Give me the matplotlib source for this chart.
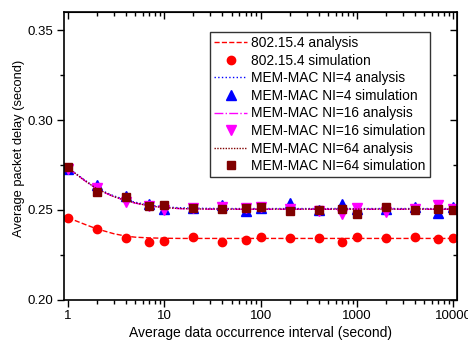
import numpy as np
from matplotlib import pyplot as plt
from matplotlib.ticker import FixedLocator, FixedFormatter, MultipleLocator, LogLocator, NullFormatter

plt.rcParams['font.family'] = ['Liberation Sans', 'DejaVu Sans']

# Simulation x positions (data occurrence interval, seconds)
x_sim = [1, 2, 4, 7, 10, 20, 40, 70, 100, 200, 400, 700, 1000, 2000, 4000, 7000, 10000]

# Analysis curves
x_ana = [1, 1.5, 2, 3, 4, 5, 7, 10, 15, 20, 40, 100, 1000, 10000]
ieee_ana = [0.2457, 0.2420, 0.2395, 0.2368, 0.2355, 0.2349, 0.2345, 0.2343, 0.2342, 0.2342,
            0.2342, 0.2342, 0.2342, 0.2342]
ni4_ana = [0.2735, 0.2665, 0.2620, 0.2578, 0.2557, 0.2543, 0.2527, 0.2517, 0.2512, 0.2510,
           0.2508, 0.2508, 0.2508, 0.2508]
ni16_ana = [0.2733, 0.2662, 0.2616, 0.2573, 0.2552, 0.2538, 0.2522, 0.2512, 0.2507, 0.2505,
            0.2504, 0.2504, 0.2504, 0.2504]
ni64_ana = [0.2734, 0.2663, 0.2617, 0.2574, 0.2553, 0.2539, 0.2523, 0.2513, 0.2508, 0.2506,
            0.2505, 0.2505, 0.2505, 0.2505]

# Simulation points
ieee_sim = [0.2457, 0.2396, 0.2344, 0.2322, 0.2326, 0.2348, 0.2322, 0.2335, 0.2350, 0.2344,
            0.2344, 0.2324, 0.2350, 0.2344, 0.2348, 0.2340, 0.2344]
ni4_sim = [0.2728, 0.2641, 0.2578, 0.2531, 0.2504, 0.2512, 0.2528, 0.2496, 0.2512, 0.2537,
           0.2498, 0.2532, 0.2503, 0.2505, 0.2518, 0.2481, 0.2515]
ni16_sim = [0.2725, 0.2620, 0.2546, 0.2520, 0.2500, 0.2512, 0.2515, 0.2510, 0.2517, 0.2505,
            0.2495, 0.2476, 0.2511, 0.2490, 0.2505, 0.2526, 0.2508]
ni64_sim = [0.2741, 0.2602, 0.2571, 0.2522, 0.2530, 0.2512, 0.2506, 0.2509, 0.2517, 0.2496,
            0.2500, 0.2505, 0.2476, 0.2518, 0.2499, 0.2506, 0.2498]

fig = plt.figure(figsize=(4.68, 3.47), dpi=100)
ax = fig.add_axes([64/468, 1 - 300/347, (457-64)/468, (300-12)/347])

ax.plot(x_ana, ieee_ana, '--', color='#ff0000', lw=1, label='802.15.4 analysis')
ax.plot(x_sim, ieee_sim, 'o', color='#ff0000', ms=6, ls='none', label='802.15.4 simulation')
ax.plot(x_ana, ni4_ana, ':', color='#0000ff', lw=1, label='MEM-MAC NI=4 analysis')
ax.plot(x_sim, ni4_sim, '^', color='#0000ff', ms=6.5, ls='none', label='MEM-MAC NI=4 simulation')
ax.plot(x_ana, ni16_ana, '-.', color='#ff00ff', lw=1, label='MEM-MAC NI=16 analysis')
ax.plot(x_sim, ni16_sim, 'v', color='#ff00ff', ms=6.5, ls='none', label='MEM-MAC NI=16 simulation')
ax.plot(x_ana, ni64_ana, color='#800000', lw=1, ls=(0, (1, 1)), label='MEM-MAC NI=64 analysis')
ax.plot(x_sim, ni64_sim, 's', color='#800000', ms=5.5, ls='none', label='MEM-MAC NI=64 simulation')

ax.set_xscale('log')
ax.set_xlim(0.91, 10900)
ax.set_ylim(0.20, 0.36)

ax.xaxis.set_major_locator(FixedLocator([1, 10, 100, 1000, 10000]))
ax.xaxis.set_major_formatter(FixedFormatter(['1', '10', '100', '1000', '10000']))
ax.xaxis.set_minor_locator(LogLocator(base=10, subs=np.arange(2, 10)))
ax.xaxis.set_minor_formatter(NullFormatter())
ax.yaxis.set_major_locator(FixedLocator([0.20, 0.25, 0.30, 0.35]))
ax.yaxis.set_major_formatter(FixedFormatter(['0.20', '0.25', '0.30', '0.35']))
ax.yaxis.set_minor_locator(MultipleLocator(0.025))

ax.tick_params(which='both', direction='out', labelsize=9.5, width=1, top=False, right=False)
ax.tick_params(which='major', length=5, pad=2.5)
ax.tick_params(which='minor', length=3)

# inward ticks on the top and right spines
sec_x = ax.secondary_xaxis('top')
sec_x.xaxis.set_major_locator(FixedLocator([1, 10, 100, 1000, 10000]))
sec_x.xaxis.set_minor_locator(LogLocator(base=10, subs=np.arange(2, 10)))
sec_x.tick_params(which='both', direction='in', labeltop=False, width=1)
sec_x.tick_params(which='major', length=5)
sec_x.tick_params(which='minor', length=3)
sec_y = ax.secondary_yaxis('right')
sec_y.yaxis.set_major_locator(FixedLocator([0.20, 0.25, 0.30, 0.35]))
sec_y.yaxis.set_minor_locator(MultipleLocator(0.025))
sec_y.tick_params(which='both', direction='in', labelright=False, width=1)
sec_y.tick_params(which='major', length=5)
sec_y.tick_params(which='minor', length=3)

for s in ax.spines.values():
    s.set_linewidth(1.2)

ax.set_xlabel('Average data occurrence interval (second)', fontsize=10)
ax.xaxis.set_label_coords(0.5, -(333 - 300) / 288, transform=ax.transAxes)
ax.set_ylabel('Average packet delay (second)', fontsize=9.3)
ax.yaxis.set_label_coords(-(64 - 19) / 393, (300 - 148.5) / 288, transform=ax.transAxes)
ax.xaxis.label.set_va('center')
ax.yaxis.label.set_va('center')

leg = ax.legend(loc='upper left', bbox_to_anchor=((210-64)/393, 1 - (32-12)/288),
                fontsize=9.9, frameon=True, fancybox=False, edgecolor='black',
                handlelength=2.4, handletextpad=0.3, labelspacing=0.26,
                borderpad=0.3, borderaxespad=0, numpoints=1)
leg.get_frame().set_linewidth(1)

fig.savefig('out.png', dpi=100)
